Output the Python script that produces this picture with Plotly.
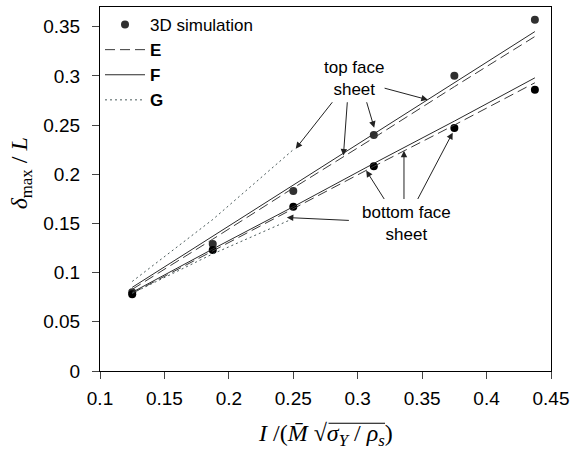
import plotly.graph_objects as go

# ---- data ----
x_pts = [0.125, 0.1875, 0.25, 0.3125, 0.375, 0.4375]
sim_top = [0.080, 0.129, 0.183, 0.240, 0.300, 0.357]
sim_bottom = [0.078, 0.123, 0.167, 0.208, 0.247, 0.286]

E_top = [0.083, 0.134, 0.186, 0.237, 0.289, 0.340]
F_top = [0.085, 0.137, 0.189, 0.241, 0.293, 0.345]
E_bottom = [0.079, 0.122, 0.165, 0.208, 0.250, 0.293]
F_bottom = [0.080, 0.124, 0.167, 0.211, 0.254, 0.298]

x_G = [0.125, 0.1875, 0.25]
G_top = [0.091, 0.154, 0.225]
G_bottom = [0.079, 0.119, 0.155]

x_ticks = [0.1, 0.15, 0.2, 0.25, 0.3, 0.35, 0.4, 0.45]
y_ticks = [0, 0.05, 0.1, 0.15, 0.2, 0.25, 0.3, 0.35]

fig = go.Figure()

line_E = dict(color="#3a3a3a", width=1, dash="10px,5px")
line_F = dict(color="#2a2a2a", width=1)
line_G = dict(color="#4a5a5a", width=1, dash="2px,3px")

fig.add_trace(go.Scatter(x=x_pts, y=sim_top, mode="markers", name="3D simulation",
                         legendgroup="sim", showlegend=True,
                         marker=dict(color="#303030", size=8)))
fig.add_trace(go.Scatter(x=x_pts, y=sim_bottom, mode="markers", name="3D simulation",
                         legendgroup="sim", showlegend=False,
                         marker=dict(color="#000000", size=8)))
fig.add_trace(go.Scatter(x=x_pts, y=E_top, mode="lines", name="<b>E</b>",
                         legendgroup="E", line=line_E))
fig.add_trace(go.Scatter(x=x_pts, y=E_bottom, mode="lines", name="<b>E</b>",
                         legendgroup="E", showlegend=False, line=line_E))
fig.add_trace(go.Scatter(x=x_pts, y=F_top, mode="lines", name="<b>F</b>",
                         legendgroup="F", line=line_F))
fig.add_trace(go.Scatter(x=x_pts, y=F_bottom, mode="lines", name="<b>F</b>",
                         legendgroup="F", showlegend=False, line=line_F))
fig.add_trace(go.Scatter(x=x_G, y=G_top, mode="lines", name="<b>G</b>",
                         legendgroup="G", line=line_G))
fig.add_trace(go.Scatter(x=x_G, y=G_bottom, mode="lines", name="<b>G</b>",
                         legendgroup="G", showlegend=False, line=line_G))

annotations = []
# arrows: (tail_x, tail_y, head_x, head_y)
top_arrows = [
    (0.2812, 0.2747, 0.2519, 0.2260),
    (0.2920, 0.2747, 0.2889, 0.2190),
    (0.3066, 0.2747, 0.3128, 0.2473),
    (0.3197, 0.2879, 0.3544, 0.2757),
]
bottom_arrows = [
    (0.2943, 0.1530, 0.2450, 0.1560),
    (0.3213, 0.1733, 0.3066, 0.2037),
    (0.3359, 0.1733, 0.3359, 0.2240),
    (0.3460, 0.1733, 0.3737, 0.2423),
]
for tx, ty, hx, hy in top_arrows + bottom_arrows:
    annotations.append(dict(x=hx, y=hy, ax=tx, ay=ty, xref="x", yref="y",
                            axref="x", ayref="y", text="", showarrow=True,
                            arrowhead=2, arrowsize=1.3, arrowwidth=1,
                            arrowcolor="#222"))
annotations.append(dict(x=0.2974, y=0.297, xref="x", yref="y", text="top face<br>sheet",
                        showarrow=False, font=dict(size=17, color="#000",
                        family="Liberation Sans, Arial"), yanchor="middle"))
annotations.append(dict(x=0.3375, y=0.150, xref="x", yref="y", text="bottom face<br>sheet",
                        showarrow=False, font=dict(size=17, color="#000",
                        family="Liberation Sans, Arial"), yanchor="middle"))
# axis titles
annotations.append(dict(x=-0.176, y=0.542, xref="paper", yref="paper",
                        xanchor="center", yanchor="middle",
                        text="<i>δ</i><sub>max</sub> / <i>L</i>", textangle=-90,
                        showarrow=False, font=dict(size=24, family="Liberation Serif, Times New Roman", color="#000")))
annotations.append(dict(x=0.5, y=-0.175, xref="paper", yref="paper",
                        xanchor="center", yanchor="middle",
                        text="<i>I</i> /(<i>M\u0304</i> \u221a<i>σ</i><sub><i>Y</i></sub> / <i>ρ</i><sub><i>s</i></sub>)",
                        showarrow=False, font=dict(size=24, family="Liberation Serif, Times New Roman", color="#000")))
# radical overline (decoration of the x-axis title)
annotations.append(dict(x=0.632, y=-0.1435, xref="paper", yref="paper", text="",
                        showarrow=True, ax=-58, ay=0, arrowhead=0, arrowwidth=1.2,
                        arrowcolor="#000", standoff=0, startstandoff=0))

fig.update_layout(
    width=575, height=466,
    margin=dict(l=100, r=21, t=6, b=95),
    paper_bgcolor="white", plot_bgcolor="white",
    font=dict(family="Liberation Sans, Arial", size=17, color="#000"),
    legend=dict(x=0.0, y=1.0, xanchor="left", yanchor="top",
                bgcolor="rgba(0,0,0,0)", font=dict(size=17),
                tracegroupgap=0, itemwidth=40),
    annotations=annotations,
    showlegend=True,
)
fig.update_xaxes(range=[0.1, 0.45], tickvals=x_ticks, ticks="outside", ticklen=7,
                 ticklabelstandoff=3,
                 showline=True, linecolor="#000", linewidth=1, mirror=True,
                 showgrid=False, zeroline=False, tickfont=dict(size=19))
fig.update_yaxes(range=[0, 0.37], tickvals=y_ticks, ticks="outside", ticklen=7,
                 ticklabelstandoff=8,
                 showline=True, linecolor="#000", linewidth=1, mirror=True,
                 showgrid=False, zeroline=False, tickfont=dict(size=19))

fig.write_html("out.html", config={"displayModeBar": False},
               post_script="document.body.style.margin='0';")
